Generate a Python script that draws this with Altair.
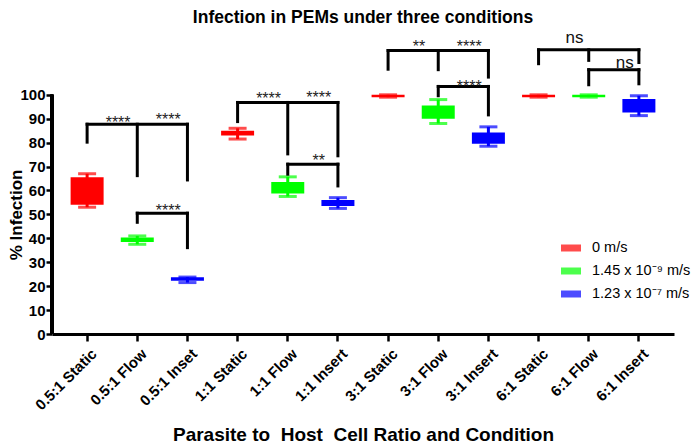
import altair as alt
import pandas as pd

# ---- data ----
categories = ["0.5:1 Static", "0.5:1 Flow", "0.5:1 Inset",
              "1:1 Static", "1:1 Flow", "1:1 Insert",
              "3:1 Static", "3:1 Flow", "3:1 Insert",
              "6:1 Static", "6:1 Flow", "6:1 Insert"]
conditions = ["0 m/s", "1.45 x 10⁻⁹ m/s", "1.23 x 10⁻⁷ m/s"]
colors = ["#ff0000", "#00ff00", "#0000ff"]

mins = [53.0, 37.5, 21.5, 81.5, 57.5, 52.5, 99.0, 88.0, 78.5, 99.0, 99.0, 91.3]
q1s = [54.0, 38.5, 22.3, 83.0, 58.7, 53.5, 99.0, 90.0, 79.5, 99.0, 99.0, 92.6]
q3s = [65.5, 40.3, 23.7, 85.0, 63.5, 56.0, 100.0, 95.5, 84.2, 100.0, 100.0, 98.2]
maxs = [67.0, 41.0, 23.8, 86.0, 65.7, 57.0, 100.0, 98.0, 86.6, 100.0, 100.0, 99.6]

# significance brackets (horizontal bars)
bracket_from = ["0.5:1 Static", "0.5:1 Flow", "1:1 Static", "1:1 Flow",
                "3:1 Static", "3:1 Flow", "6:1 Static", "6:1 Flow"]
bracket_to = ["0.5:1 Inset", "0.5:1 Inset", "1:1 Insert", "1:1 Insert",
              "3:1 Insert", "3:1 Insert", "6:1 Insert", "6:1 Insert"]
bracket_y = [87.7, 50.5, 96.8, 71.0, 118.5, 103.5, 118.8, 110.5]

# bracket legs
leg_cat = ["0.5:1 Static", "0.5:1 Flow", "0.5:1 Inset", "0.5:1 Flow", "0.5:1 Inset",
           "1:1 Static", "1:1 Flow", "1:1 Insert", "1:1 Flow", "1:1 Insert",
           "3:1 Static", "3:1 Flow", "3:1 Insert", "3:1 Flow", "3:1 Insert",
           "6:1 Static", "6:1 Flow", "6:1 Insert", "6:1 Flow", "6:1 Insert"]
leg_bottom = [80.2, 66.2, 64.4, 46.7, 36.1,
              88.8, 75.3, 74.5, 66.8, 61.9,
              110.7, 110.5, 107.4, 99.6, 91.6,
              113.0, 114.4, 113.5, 104.2, 104.6]
leg_top = [87.7, 87.7, 87.7, 50.5, 50.5,
           96.8, 96.8, 96.8, 71.0, 71.0,
           118.5, 118.5, 118.5, 103.5, 103.5,
           118.8, 118.8, 118.8, 110.5, 110.5]

# significance labels (anchored at left category of each gap)
star_cat = ["0.5:1 Static", "0.5:1 Flow", "0.5:1 Flow",
            "1:1 Static", "1:1 Flow", "1:1 Flow",
            "3:1 Static", "3:1 Flow", "3:1 Flow"]
star_y = [89.8, 91.1, 52.9, 99.8, 100.2, 74.0, 121.5, 121.8, 105.1]
star_text = ["****", "****", "****", "****", "****", "**", "**", "****", "****"]

ns_cat = ["6:1 Static", "6:1 Flow"]
ns_y = [123.2, 113.0]
ns_text = ["ns", "ns"]

y_ticks = [0, 10, 20, 30, 40, 50, 60, 70, 80, 90, 100]

FONT = "Liberation Sans"

boxes = pd.DataFrame({
    "cat": categories,
    "cond": [conditions[i % 3] for i in range(len(categories))],
    "lo": mins, "q1": q1s, "q3": q3s, "hi": maxs,
})
brackets = pd.DataFrame({"cat": bracket_from, "cat2": bracket_to, "y": bracket_y})
legs = pd.DataFrame({"cat": leg_cat, "bottom": leg_bottom, "top": leg_top})
stars = pd.DataFrame({"cat": star_cat, "y": star_y, "label": star_text})
nss = pd.DataFrame({"cat": ns_cat, "y": ns_y, "label": ns_text})

xscale = alt.Scale(domain=categories, paddingInner=0, paddingOuter=0.2)
yscale = alt.Scale(domain=[0, 125], nice=False, zero=True)

XTITLE = "Parasite to\u00a0 Host\u00a0 Cell Ratio and Condition"
YTITLE = "% Infection"
xaxis = alt.Axis(labelAngle=-45, labelAlign="right", labelBaseline="top",
                 labelFontSize=15, labelPadding=5, labelOffset=2,
                 tickSize=7, tickWidth=2.5, domainWidth=3,
                 titleFontSize=19, titleY=106, titleBaseline="alphabetic")
yaxis = alt.Axis(values=y_ticks, domain=False, labelOverlap=False,
                 tickSize=6, tickWidth=2.5, labelFontSize=15, labelPadding=1,
                 titleFontSize=17, titleX=-31, titleY=179.4,
                 titleBaseline="alphabetic", titleAngle=-90, titleAlign="center")


def X(field):
    return alt.X(field, sort=categories, scale=xscale, axis=xaxis, title=XTITLE)


def Y(field):
    return alt.Y(field, scale=yscale, axis=yaxis, title=YTITLE)


color_enc = alt.Color(
    "cond:N", scale=alt.Scale(domain=conditions, range=colors),
    legend=alt.Legend(title=None, orient="none", legendX=509, legendY=203,
                      symbolType="M-1,-0.35H1V0.35H-1Z", symbolSize=400,
                      symbolStrokeWidth=0, labelFont=FONT, labelFontSize=14.5,
                      labelColor="black", labelOffset=11, rowPadding=6,
                      labelLimit=200),
)

box_layer = alt.Chart(boxes).mark_bar(size=33).encode(
    x=X("cat:N"), y=Y("q1:Q"), y2="q3:Q", color=color_enc)
whisk = alt.Chart(boxes).mark_rule(strokeWidth=3).encode(
    x=X("cat:N"), y=Y("lo:Q"), y2="hi:Q", color=color_enc)
cap_lo = alt.Chart(boxes).mark_tick(size=18, thickness=3).encode(
    x=X("cat:N"), y=Y("lo:Q"), color=color_enc)
cap_hi = alt.Chart(boxes).mark_tick(size=18, thickness=3).encode(
    x=X("cat:N"), y=Y("hi:Q"), color=color_enc)

# y axis line only from 0 to 100
yline = alt.Chart(boxes).mark_rule(strokeWidth=3, color="black").encode(
    x=alt.value(0), y=alt.datum(y_ticks[0], scale=yscale, axis=yaxis, title=YTITLE),
    y2=alt.datum(y_ticks[-1]))

hbar = alt.Chart(brackets).mark_rule(strokeWidth=3, color="black", strokeCap="square").encode(
    x=X("cat:N"), x2="cat2:N", y=Y("y:Q"))
vleg = alt.Chart(legs).mark_rule(strokeWidth=3, color="black", strokeCap="square").encode(
    x=X("cat:N"), y=Y("bottom:Q"), y2="top:Q")

star_layer = alt.Chart(stars).mark_text(
    font=FONT, fontSize=16, color="#222222", align="center",
    baseline="alphabetic", dx=31, dy=9).encode(
    x=X("cat:N"), y=Y("y:Q"), text="label:N")
ns_layer = alt.Chart(nss).mark_text(
    font=FONT, fontSize=17, color="#111111", align="center",
    baseline="alphabetic", dx=36, dy=4).encode(
    x=X("cat:N"), y=Y("y:Q"), text="label:N")

chart = alt.layer(
    box_layer, whisk, cap_lo, cap_hi, yline, hbar, vleg, star_layer, ns_layer
).properties(
    width=622, height=299,
    padding={"left": 44, "top": 27, "right": 18, "bottom": 111},
    autosize=alt.AutoSizeParams(type="none"),
    title=alt.TitleParams("Infection in PEMs under three conditions",
                          font=FONT, fontSize=17.5, fontWeight="bold",
                          color="black", anchor="middle", dy=1),
).configure_axis(
    labelFont=FONT, titleFont=FONT, labelFontWeight="bold", titleFontWeight="bold",
    labelColor="black", titleColor="black", tickColor="black", domainColor="black",
    grid=False,
).configure_view(stroke="transparent")

chart.save("out.html", embed_options={"renderer": "svg", "actions": False})
